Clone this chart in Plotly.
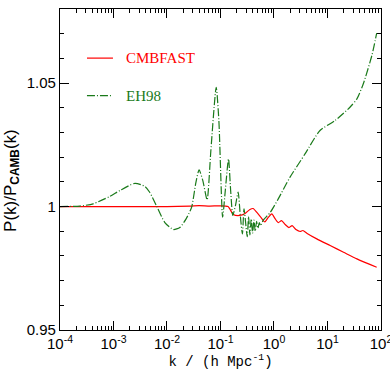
import numpy as np
import plotly.graph_objects as go

# log10 k  and ratio P(k)/P_CAMB(k)
logk_cmbfast = [-4.0, -3.0, -2.0, -1.57, -1.4, -1.2, -1.01, -0.86, -0.76, -0.64, -0.54,
                -0.45, -0.39, -0.32, -0.24, -0.17, -0.11, -0.04, 0.02, 0.08, 0.14, 0.21,
                0.28, 0.34, 0.41, 0.49, 0.54, 0.62, 0.80, 1.05, 1.30, 1.55, 1.92]
ratio_cmbfast = [1.0000, 1.0000, 1.0000, 1.0002, 1.0004, 1.0002, 1.0003, 1.0000, 0.9968,
                 0.9964, 0.9972, 0.9988, 0.9992, 0.9976, 0.9955, 0.9938, 0.9955, 0.9970,
                 0.9951, 0.9935, 0.9943, 0.9927, 0.9915, 0.9923, 0.9907, 0.9899, 0.9903,
                 0.9891, 0.9869, 0.9842, 0.9815, 0.9788, 0.9754]

logk_eh98 = [-4.0, -3.63, -3.38, -3.07, -2.88, -2.60, -2.41, -2.32, -2.19, -2.04, -1.88,
             -1.76, -1.64, -1.54, -1.46, -1.40, -1.33, -1.25, -1.18, -1.08, -1.03, -0.96,
             -0.91, -0.85, -0.81, -0.77, -0.72, -0.67, -0.63, -0.59, -0.56, -0.50, -0.475,
             -0.45, -0.425, -0.40, -0.375, -0.35, -0.325, -0.30, -0.275, -0.25, -0.20,
             -0.07, 0.08, 0.30, 0.58, 0.86, 1.14, 1.42, 1.55, 1.67, 1.83, 1.92]
ratio_eh98 = [1.0000, 1.0002, 1.0011, 1.0041, 1.0065, 1.0094, 1.0081, 1.0057, 1.0000,
              0.9935, 0.9907, 0.9915, 0.9951, 0.9997, 1.0097, 1.0149, 1.0105, 1.0027,
              1.0227, 1.0483, 1.0348, 0.9957, 1.0065, 1.0193, 1.0065, 0.9964, 1.0004,
              1.0058, 0.9964, 0.9889, 0.9991, 0.9878, 0.9960, 0.9885, 0.9950, 0.9892,
              0.9945, 0.9900, 0.9940, 0.9912, 0.9935, 0.9922, 0.9945, 0.9976, 1.0031,
              1.0119, 1.0213, 1.0308, 1.0348, 1.0402, 1.0436, 1.0497, 1.0612, 1.0702]

xtick_exp = [-4, -3, -2, -1, 0, 1, 2]
ytick_vals = [0.95, 1.0, 1.05]
ytick_text = ["0.95", "1", "1.05"]

k_cmb = 10 ** np.array(logk_cmbfast)
k_eh = 10 ** np.array(logk_eh98)

GREEN = "#1a7a1a"
DASH = "8px,2px,1px,2px"

fig = go.Figure()
fig.add_trace(go.Scatter(x=k_cmb, y=ratio_cmbfast, mode="lines", name="CMBFAST",
                         line=dict(color="#ff0000", width=1.2, shape="spline", smoothing=0.6)))
fig.add_trace(go.Scatter(x=k_eh, y=ratio_eh98, mode="lines", name="EH98",
                         line=dict(color=GREEN, width=1.2, dash=DASH,
                                   shape="spline", smoothing=0.6)))

# hand-made legend like the original
fig.add_shape(type="line", xref="paper", yref="paper", x0=0.084, x1=0.165, y0=0.847, y1=0.847,
              line=dict(color="#ff0000", width=1.2))
fig.add_shape(type="line", xref="paper", yref="paper", x0=0.084, x1=0.165, y0=0.730, y1=0.730,
              line=dict(color=GREEN, width=1.2, dash=DASH))
fig.add_annotation(xref="paper", yref="paper", x=0.2, y=0.847, text="CMBFAST", showarrow=False,
                   xanchor="left", yanchor="middle",
                   font=dict(family="Liberation Serif", size=15, color="#ff0000"))
fig.add_annotation(xref="paper", yref="paper", x=0.2, y=0.730, text="EH98", showarrow=False,
                   xanchor="left", yanchor="middle",
                   font=dict(family="Liberation Serif", size=15, color=GREEN))

# y title placed by hand (sits a bit below the axis centre in the original)
fig.add_annotation(xref="paper", yref="paper", x=-0.15, y=0.467, textangle=-90,
                   text="P(k)/P<sub><b>CAMB</b></sub>(k)", showarrow=False,
                   xanchor="center", yanchor="middle",
                   font=dict(family="Liberation Sans", size=17, color="black"))

axis_common = dict(showline=True, linecolor="black", linewidth=1.2, mirror="allticks",
                   ticks="inside", tickcolor="black", ticklen=9, showgrid=False, zeroline=False,
                   automargin=False, ticklabeloverflow="allow",
                   tickfont=dict(family="Liberation Sans", size=15, color="black"))

fig.update_xaxes(type="log", range=[-4, 2.0005],
                 tickvals=[10.0 ** e for e in xtick_exp],
                 ticktext=["10<sup>%d</sup>" % e for e in xtick_exp],
                 minor=dict(ticks="inside", ticklen=4, tickcolor="black", dtick="D1", showgrid=False),
                 title=dict(text="k / (h Mpc<sup>-1</sup>)", standoff=4,
                            font=dict(family="Liberation Mono", size=14, color="black")),
                 **axis_common)
fig.update_yaxes(range=[0.95, 1.08], tickvals=ytick_vals, ticktext=ytick_text,
                 minor=dict(ticks="inside", ticklen=4, tickcolor="black", dtick=0.01, showgrid=False),
                 **axis_common)

fig.update_layout(width=390, height=390, showlegend=False,
                  margin=dict(l=60, r=9, t=9, b=60),
                  paper_bgcolor="white", plot_bgcolor="white")

# page has a default body margin; drop it so the figure sits at the window corner
fig.write_html("out.html", config={"displayModeBar": False},
               post_script="document.body.style.margin='0';")
